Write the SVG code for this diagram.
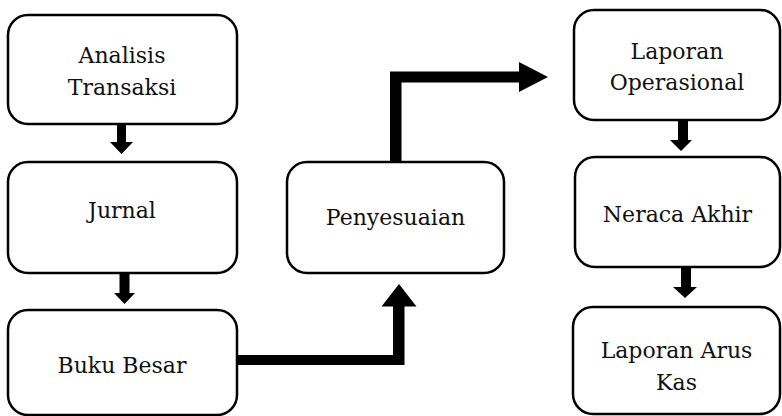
<svg xmlns="http://www.w3.org/2000/svg" width="782" height="416" viewBox="0 0 782 416">
<style>
.box{fill:#fff;stroke:#000;stroke-width:2.5}
.t{font-family:"DejaVu Serif","Liberation Serif",serif;font-size:22px;fill:#111;text-anchor:middle}
.c{fill:#000;stroke:none}
</style>
<rect width="782" height="416" fill="#fff"/>
<g id="connectors">
<polygon class="c" points="117,124 126,124 126,142 133,142 121.5,154 110,142 117,142"/>
<polygon class="c" points="119.5,273 129.5,273 129.5,293 135,293 124.5,304 114,293 119.5,293"/>
<polygon class="c" points="237,355 393,355 393,306.5 381.5,306.5 399,284 416.5,306.5 404.5,306.5 404.5,365 237,365"/>
<polygon class="c" points="390,162 390,71.5 519,71.5 519,62 548,77 519,92 519,82.5 401.5,82.5 401.5,162"/>
<polygon class="c" points="678,120 688,120 688,140 692,140 681,151 670,140 678,140"/>
<polygon class="c" points="681,267 691,267 691,287 697,287 685,298 673,287 681,287"/>
</g>
<g id="n1"><rect class="box" x="8" y="15" width="229" height="109" rx="20"/><text class="t" x="122" y="63">Analisis</text><text class="t" x="122" y="95">Transaksi</text></g>
<g id="n2"><rect class="box" x="8" y="162" width="229" height="111" rx="20"/><text class="t" x="122" y="218">Jurnal</text></g>
<g id="n3"><rect class="box" x="8" y="310" width="229" height="105" rx="20"/><text class="t" x="122" y="372.5">Buku Besar</text></g>
<g id="n4"><rect class="box" x="287" y="162" width="217" height="111" rx="20"/><text class="t" x="395.5" y="225">Penyesuaian</text></g>
<g id="n5"><rect class="box" x="574" y="10" width="206" height="110" rx="20"/><text class="t" x="677" y="59">Laporan</text><text class="t" x="677" y="90">Operasional</text></g>
<g id="n6"><rect class="box" x="575" y="157" width="205" height="110" rx="20"/><text class="t" x="677.5" y="221.5">Neraca Akhir</text></g>
<g id="n7"><rect class="box" x="573" y="307" width="207" height="107" rx="20"/><text class="t" x="676.5" y="358">Laporan Arus</text><text class="t" x="676.5" y="390">Kas</text></g>
</svg>
